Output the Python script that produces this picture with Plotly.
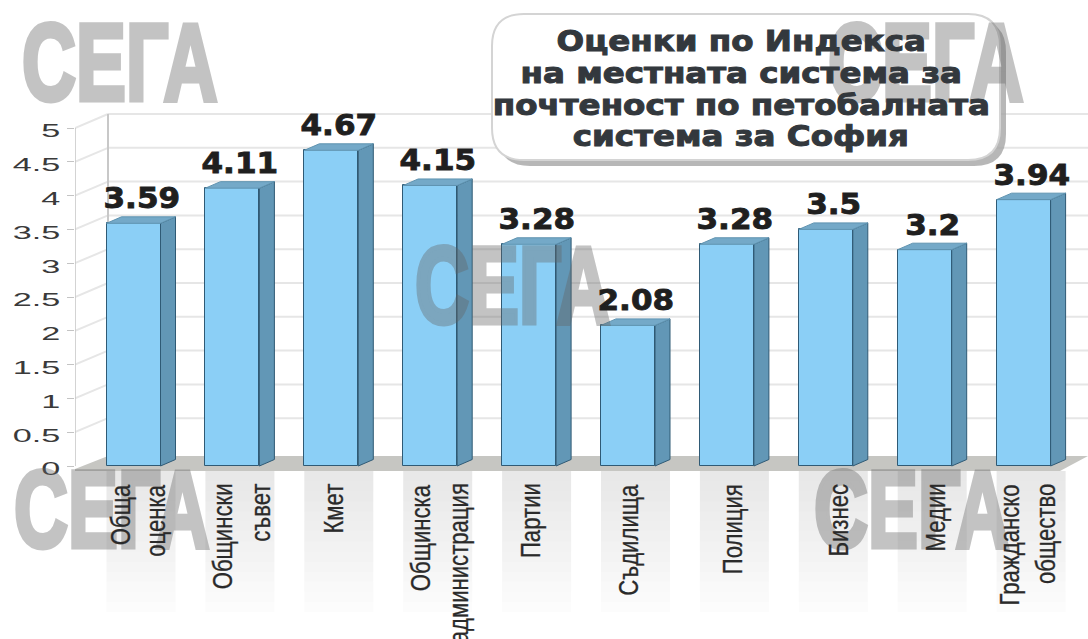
import plotly.graph_objects as go

categories = ["Обща|оценка", "Общински|съвет", "Кмет", "Общинска|администрация", "Партии",
              "Съдилища", "Полиция", "Бизнес", "Медии", "Гражданско|общество"]
values = [3.59, 4.11, 4.67, 4.15, 3.28, 2.08, 3.28, 3.5, 3.2, 3.94]
y_ticks = [0, 0.5, 1, 1.5, 2, 2.5, 3, 3.5, 4, 4.5, 5]
y_tick_labels = ["0", "0.5", "1", "1.5", "2", "2.5", "3", "3.5", "4", "4.5", "5"]
title_lines = ["Оценки по Индекса", "на местната система за", "почтеност по петобалната", "система за София"]
watermark = "СЕГА"

W, H = 1088, 639
UX, UY = 98.9, 67.6        # pixels per category / per value unit
X0PX, Y0PX = 133.5, 466    # pixel position of first category / value 0
LEFT = 75
BAR_W = 54 / UX
DX, DY = 15 / UX, 6.5 / UY  # bar depth


def px(p):
    return (p - X0PX) / UX


def py(p):
    return (Y0PX - p) / UY


FRONT = "#8bcff6"
SIDE = "#6297b6"
TOP = "#74a9c8"
EDGE = "#2f5a75"
GRID = "#e6e6e6"

fig = go.Figure()
xs = list(range(len(values)))
fig.add_trace(go.Bar(x=xs, y=values, width=BAR_W, marker=dict(color=FRONT, line=dict(color=EDGE, width=1)),
                     showlegend=False, hoverinfo="skip"))
for i, v in zip(xs, values):
    r = i + BAR_W / 2
    l = i - BAR_W / 2
    fig.add_trace(go.Scatter(x=[r, r + DX, r + DX, r, r], y=[0, DY, v + DY, v, 0], mode="lines", fill="toself",
                             fillcolor=SIDE, line=dict(color=EDGE, width=1), showlegend=False, hoverinfo="skip"))
    fig.add_trace(go.Scatter(x=[l, l + DX, r + DX, r, l], y=[v, v + DY, v + DY, v, v], mode="lines", fill="toself",
                             fillcolor=TOP, line=dict(color="#5f93b0", width=1), showlegend=False, hoverinfo="skip"))

shapes = []
# wall grid
wall_dx, wall_dy = 33, 14
for t in y_ticks:
    yb = t + wall_dy / UY
    if t > 0:
        shapes.append(dict(type="line", xref="x", yref="y", x0=px(LEFT), x1=px(LEFT + wall_dx), y0=t, y1=yb,
                           line=dict(color=GRID, width=2), layer="below"))
        shapes.append(dict(type="line", xref="x", yref="y", x0=px(LEFT + wall_dx), x1=px(W), y0=yb, y1=yb,
                           line=dict(color=GRID, width=2), layer="below"))
shapes.append(dict(type="line", xref="x", yref="y", x0=px(LEFT), x1=px(LEFT), y0=0, y1=5,
                   line=dict(color="#c4c4c4", width=1.5), layer="below"))
shapes.append(dict(type="line", xref="x", yref="y", x0=px(LEFT + wall_dx), x1=px(LEFT + wall_dx),
                   y0=wall_dy / UY, y1=5 + wall_dy / UY, line=dict(color="#c8c8c8", width=2), layer="below"))
# floor
shapes.append(dict(type="path", xref="x", yref="y", layer="below", line=dict(width=0), fillcolor="#c6c6c2",
                   path=f"M {px(70)} {py(471)} L {px(LEFT + wall_dx)} {py(456)} L {px(W)} {py(456)} "
                        f"L {px(1060)} {py(471)} Z"))
# reflection stripes below each bar
steps = 14
top_px, bot_px = 471, 612
for i in xs:
    for s in range(steps):
        a = 0.14 * (1 - s / steps) ** 0.8
        y0 = top_px + (bot_px - top_px) * s / steps
        y1 = top_px + (bot_px - top_px) * (s + 1) / steps
        shapes.append(dict(type="rect", xref="x", yref="y", layer="below", line=dict(width=0),
                           x0=i - BAR_W / 2, x1=i + BAR_W / 2 + DX, y0=py(y0), y1=py(y1),
                           fillcolor=f"rgba(90,90,90,{a:.3f})"))


# title box with shadow
def rounded(x0, y0, x1, y1, r):
    X0, X1, Y0, Y1, RX, RY = px(x0), px(x1), py(y0), py(y1), r / UX, r / UY
    return (f"M {X0 + RX} {Y0} L {X1 - RX} {Y0} Q {X1} {Y0} {X1} {Y0 - RY} L {X1} {Y1 + RY} Q {X1} {Y1} {X1 - RX} {Y1} "
            f"L {X0 + RX} {Y1} Q {X0} {Y1} {X0} {Y1 + RY} L {X0} {Y0 - RY} Q {X0} {Y0} {X0 + RX} {Y0} Z")


for off, col, lw in [(6, "rgba(165,165,165,0.8)", 0), (0, "white", 2)]:
    shapes.append(dict(type="path", xref="x", yref="y", layer="above", fillcolor=col,
                       line=dict(color="#d4d4d4", width=lw),
                       path=rounded(492 + off, 14 + off, 1000 + off, 160 + off, 32)))

ann = []
# watermarks
for cx, cy in [(120, 61), (926, 61), (513, 284), (112, 508), (912, 508)]:
    ann.append(dict(text=watermark, xref="x", yref="y", x=px(cx), y=py(cy),
                    showarrow=False, xanchor="center", yanchor="middle",
                    font=dict(family="Liberation Sans", size=110, weight=700, color="#646464")))
# category labels
label_px = [[120, 155], [222, 260], [333], [420, 458], [530], [629], [733], [838], [935], [1010, 1046]]
for i, c in enumerate(categories):
    for line, lx in zip(c.split("|"), label_px[i]):
        ann.append(dict(text=line, xref="x", yref="y", x=px(lx), y=py(482), textangle=-90, showarrow=False,
                        xanchor="center", yanchor="top",
                        font=dict(family="Liberation Sans", size=27, color="#2a2a2a")))
# value labels
for i, v in zip(xs, values):
    ann.append(dict(text=f"{v:g}", xref="x", yref="y", x=i, y=v, xshift=8, yshift=6, showarrow=False,
                    xanchor="center", yanchor="bottom",
                    font=dict(family="DejaVu Sans", size=29, weight=700, color="#1f1f1f")))
# title
for line, ty in zip(title_lines, [41, 73, 105, 136]):
    ann.append(dict(text=line, xref="x", yref="y", x=px(741), y=py(ty), showarrow=False,
                    xanchor="center", yanchor="middle",
                    font=dict(family="DejaVu Sans", size=28, weight=700, color="#33383d")))

fig.update_layout(
    width=W, height=H, margin=dict(l=LEFT, r=0, t=0, b=0), paper_bgcolor="white", plot_bgcolor="white",
    showlegend=False, bargap=0, shapes=shapes, annotations=ann,
    xaxis=dict(range=[px(LEFT), px(W)], visible=False, fixedrange=True),
    yaxis=dict(range=[py(H), py(0)], tickmode="array", tickvals=y_ticks, ticktext=y_tick_labels, showgrid=False,
               zeroline=False, showline=False, ticks="outside", ticklen=7, tickcolor="#c4c4c4",
               ticklabelstandoff=3, ticklabelshift=3, tickfont=dict(family="Liberation Sans", size=18, color="#3a3a3a"),
               fixedrange=True),
)

post = """
document.body.style.margin = '0';
document.documentElement.style.overflow = 'hidden';
var gd = document.getElementById('{plot_id}');
function stretch(el, f, sw) {
  var n = el.getComputedTextLength();
  el.setAttribute('textLength', n * f);
  el.setAttribute('lengthAdjust', 'spacingAndGlyphs');
  if (sw) { el.style.stroke = el.style.fill; el.style.strokeWidth = sw + 'px'; }
}
gd.querySelectorAll('.annotation-text').forEach(function (el) {
  var s = parseFloat(el.style.fontSize);
  if (s === 110) { stretch(el, 0.68, 5); el.style.opacity = 0.38; }
  else if (s === 27) {
    var n = el.getComputedTextLength();
    el.setAttribute('x', parseFloat(el.getAttribute('x')) + n / 2);
    el.setAttribute('text-anchor', 'end');
    el.style.textAnchor = 'end';
    stretch(el, 0.82, 0.3);
  }
  else if (s === 29) stretch(el, 1.07, 0.9);
  else if (s === 28) stretch(el, 1.16, 1.0);
});
gd.querySelectorAll('.ytick text').forEach(function (el) { stretch(el, 1.9, 0); });
"""
fig.write_html("out.html", config={"displayModeBar": False}, post_script=post)
